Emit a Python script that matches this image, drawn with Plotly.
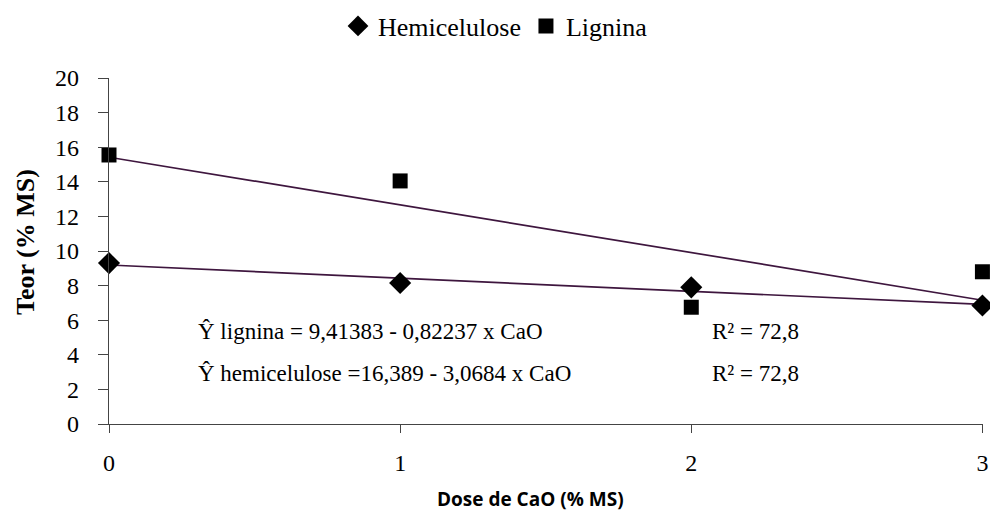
import numpy as np
import plotly.graph_objects as go

dose = [0, 1, 2, 3]
hemicelulose = [9.3, 8.15, 7.9, 6.85]
lignina = [15.55, 14.05, 6.75, 8.8]
series_names = ["Hemicelulose", "Lignina"]
eq_texts = ["Ŷ lignina = 9,41383 - 0,82237 x CaO", "Ŷ hemicelulose =16,389 - 3,0684 x CaO"]
r2_texts = ["R² = 72,8", "R² = 72,8"]
y_ticks = list(range(0, 21, 2))
x_ticks = [0, 1, 2, 3]

serif = "Liberation Serif"

fig = go.Figure()

# trend lines (least-squares fits of the data)
for ys in (hemicelulose, lignina):
    m, b = np.polyfit(dose, ys, 1)
    xs = [dose[0], dose[-1]]
    fig.add_trace(go.Scatter(x=xs, y=[b + m * x for x in xs], mode="lines",
                             line=dict(color="#3e163e", width=1.7),
                             showlegend=False, hoverinfo="skip", cliponaxis=False))

fig.add_trace(go.Scatter(x=dose, y=hemicelulose, mode="markers", name=series_names[0],
                         marker=dict(symbol="diamond", size=17, color="black"), cliponaxis=False))
fig.add_trace(go.Scatter(x=dose, y=lignina, mode="markers", name=series_names[1],
                         marker=dict(symbol="square", size=15, color="black"), cliponaxis=False))

L, R, T, B = 109, 7, 78, 104
W, H = 990, 528
pw, ph = W - L - R, H - T - B

def px(xp):
    return (xp - L) / pw

def py(yp):
    return (H - B - yp) / ph

annotations = []
for i, (eq, r2) in enumerate(zip(eq_texts, r2_texts)):
    yy = py(331 + 42 * i)
    annotations.append(dict(x=px(196), y=yy, xref="paper", yref="paper", text=eq,
                            showarrow=False, xanchor="left", yanchor="middle",
                            font=dict(family=serif, size=23, color="black")))
    annotations.append(dict(x=px(710), y=yy, xref="paper", yref="paper", text=r2,
                            showarrow=False, xanchor="left", yanchor="middle",
                            font=dict(family=serif, size=23, color="black")))

annotations.append(dict(x=px(530), y=py(499), xref="paper", yref="paper",
                        text="<b>Dose de CaO (% MS)</b>", showarrow=False,
                        xanchor="center", yanchor="middle",
                        font=dict(family="Open Sans", size=19, color="black")))
annotations.append(dict(x=px(25), y=py(242), xref="paper", yref="paper",
                        text="<b>Teor (% MS)</b>", showarrow=False, textangle=-90,
                        xanchor="center", yanchor="middle",
                        font=dict(family=serif, size=26, color="black")))

fig.update_layout(
    width=W, height=H,
    margin=dict(l=L, r=R, t=T, b=B, autoexpand=False),
    plot_bgcolor="white", paper_bgcolor="white",
    font=dict(family=serif, size=24, color="black"),
    showlegend=True,
    legend=dict(orientation="h", x=338 / W, y=1 - 26 / H, xref="container", yref="container",
                xanchor="left", yanchor="middle",
                font=dict(family=serif, size=26, color="black"),
                itemwidth=30, bgcolor="rgba(0,0,0,0)"),
    annotations=annotations,
    xaxis=dict(range=[0, 3.002], tickvals=x_ticks, showgrid=False, zeroline=False,
               showline=True, linecolor="#444", linewidth=1.2, ticks="outside",
               ticklen=8, tickcolor="#444", tickfont=dict(family=serif, size=24),
               ticklabelstandoff=9, automargin=False, fixedrange=True),
    yaxis=dict(range=[0, 20], tickvals=y_ticks, showgrid=False, zeroline=False,
               showline=True, linecolor="#444", linewidth=1.2, ticks="outside",
               ticklen=10, tickcolor="#444", tickfont=dict(family=serif, size=24),
               ticklabelstandoff=14, automargin=False, fixedrange=True),
)

fig.write_html("out.html", config={"displayModeBar": False})

# remove the browser's default page margin so the figure starts at the top-left corner
with open("out.html", encoding="utf-8") as f:
    html = f.read()
html = html.replace("<head>", "<head><style>html,body{margin:0;padding:0;overflow:hidden}</style>", 1)
with open("out.html", "w", encoding="utf-8") as f:
    f.write(html)
